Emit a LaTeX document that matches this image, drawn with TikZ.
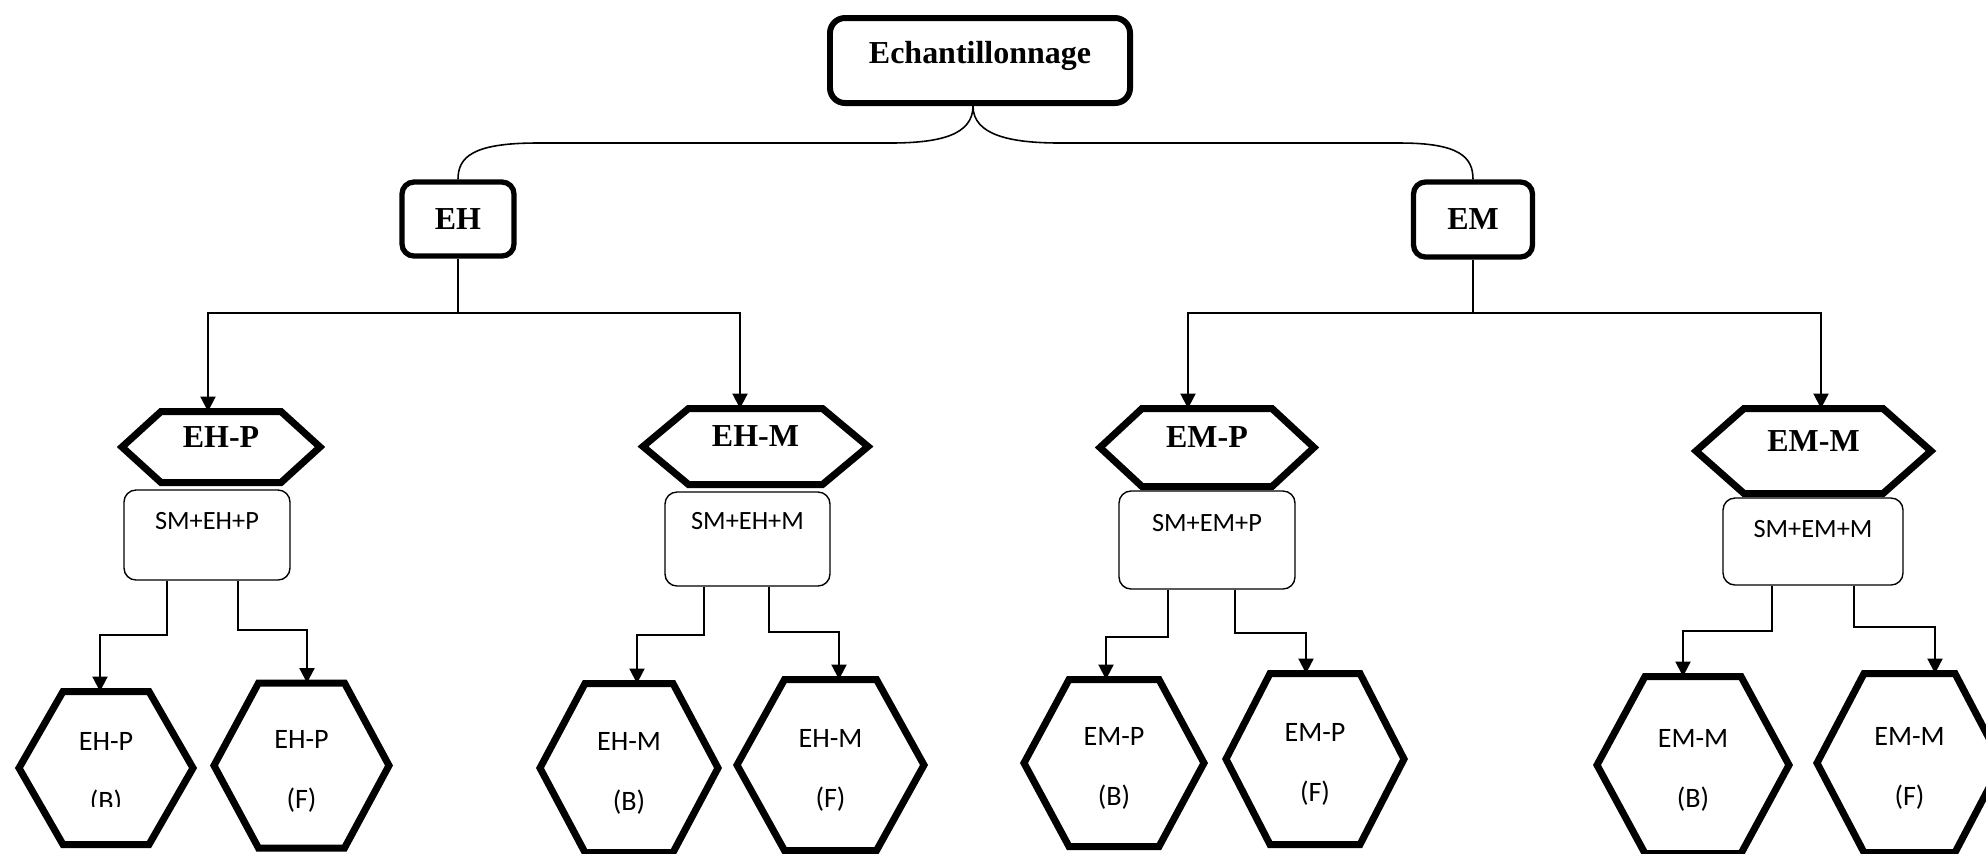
\documentclass[tikz,border=0pt]{standalone}
\usepackage{fontspec}
\setmainfont{Liberation Serif}
\newfontfamily\calibri{Carlito}
\usetikzlibrary{arrows.meta}

\newcommand{\hexa}[2]{%
  \draw[trait] (#1.west) -- ([xshift=#2]#1.north west) -- ([xshift=-#2]#1.north east)
    -- (#1.east) -- ([xshift=-#2]#1.south east) -- ([xshift=#2]#1.south west) -- cycle;}

\begin{document}
\begin{tikzpicture}[
    >={Triangle[length=0.15cm,width=0.15cm]},
    boite/.style={draw,line width=1.7pt,rounded corners=0.15cm,inner sep=0,font=\fontsize{9.1}{11}\selectfont\bfseries},
    hexhaut/.style={inner sep=0,outer sep=0,text depth=0.2cm,font=\fontsize{9.1}{11}\selectfont\bfseries},
    hexbas/.style={inner sep=0,outer sep=0,align=center,text height=0.89cm,font=\calibri\fontsize{8}{17}\selectfont},
    combi/.style={draw,line width=0.4pt,rounded corners=0.12cm,inner sep=0,font=\calibri\fontsize{7.5}{9}\selectfont},
    lien/.style={line width=0.6pt},
    courbe/.style={line width=0.45pt},
    trait/.style={line width=2pt}
]
    \useasboundingbox (0,0) rectangle (19.86,-8.53);
    \clip (0,0) rectangle (19.86,-8.53);

    \node[boite,minimum width=3.00cm,minimum height=0.85cm,text depth=0.16cm] (ech) at (9.80,-0.605) {Echantillonnage};
    \node[boite,line width=1.5pt,rounded corners=0.12cm,minimum width=1.12cm,minimum height=0.74cm] (eh) at (4.58,-2.19) {EH};
    \node[boite,line width=1.5pt,rounded corners=0.12cm,minimum width=1.19cm,minimum height=0.75cm] (em) at (14.73,-2.195) {EM};

    \node[combi,minimum width=1.66cm,minimum height=0.90cm,text depth=0.28cm] (smehp) at (2.07,-5.35) {SM+EH+P};
    \node[combi,minimum width=1.65cm,minimum height=0.94cm,text depth=0.36cm] (smehm) at (7.475,-5.39) {SM+EH+M};
    \node[combi,minimum width=1.76cm,minimum height=0.98cm,text depth=0.34cm] (smemp) at (12.07,-5.40) {SM+EM+P};
    \node[combi,minimum width=1.80cm,minimum height=0.87cm,text depth=0.25cm] (smemm) at (18.13,-5.415) {SM+EM+M};

    \node[hexhaut,minimum width=1.98cm,minimum height=0.71cm] (ehp) at (2.21,-4.47) {EH-P};
    \node[hexhaut,minimum width=2.25cm,minimum height=0.76cm] (ehm) at (7.555,-4.465) {EH-M};
    \node[hexhaut,minimum width=2.14cm,minimum height=0.78cm] (emp) at (12.07,-4.475) {EM-P};
    \node[hexhaut,minimum width=2.35cm,minimum height=0.85cm] (emm) at (18.135,-4.51) {EM-M};

    \node[hexbas,minimum width=1.74cm,minimum height=1.53cm] (ehpb) at (1.06,-7.68) {EH-P\\(B)};
    \node[hexbas,minimum width=1.75cm,minimum height=1.65cm] (ehpf) at (3.015,-7.655) {EH-P\\(F)};
    \node[hexbas,minimum width=1.78cm,minimum height=1.69cm] (ehmb) at (6.29,-7.68) {EH-M\\(B)};
    \node[hexbas,minimum width=1.87cm,minimum height=1.71cm] (ehmf) at (8.305,-7.65) {EH-M\\(F)};
    \node[hexbas,minimum width=1.80cm,minimum height=1.67cm] (empb) at (11.14,-7.63) {EM-P\\(B)};
    \node[hexbas,minimum width=1.78cm,minimum height=1.71cm] (empf) at (13.15,-7.59) {EM-P\\(F)};
    \node[hexbas,minimum width=1.92cm,minimum height=1.77cm] (emmb) at (16.93,-7.65) {EM-M\\(B)};
    \node[hexbas,minimum width=1.85cm,minimum height=1.79cm] (emmf) at (19.095,-7.63) {EM-M\\(F)};
    \fill[white] (0.85,-8.07) rectangle (1.27,-8.25);

    \foreach \n/\d in {ehp/0.39,ehm/0.455,emp/0.42,emm/0.48,ehpb/0.44,ehpf/0.445,ehmb/0.45,ehmf/0.475,empb/0.45,empf/0.44,emmb/0.48,emmf/0.47}
        \hexa{\n}{\d cm};

    \draw[courbe] ([xshift=-0.07cm]ech.south) .. controls +(0,-0.29) and +(0.5,0) .. (8.90,-1.43) -- (5.37,-1.43) .. controls +(-0.65,0) and +(0,0.22) .. (eh.north);
    \draw[courbe] ([xshift=-0.07cm]ech.south) .. controls +(0,-0.29) and +(-0.5,0) .. (10.60,-1.43) -- (14.00,-1.43) .. controls +(0.6,0) and +(0,0.22) .. (em.north);

    \draw[lien] (eh.south) -- ++(0,-0.54) coordinate (ehx);
    \draw[lien,->] (ehx) -| ([xshift=-0.13cm]ehp.north);
    \draw[lien,->] (ehx) -| ([xshift=-0.155cm]ehm.north);
    \draw[lien] (em.south) -- ++(0,-0.53) coordinate (emx);
    \draw[lien,->] (emx) -| ([xshift=-0.19cm]emp.north);
    \draw[lien,->] (emx) -| ([xshift=0.075cm]emm.north);

    \draw[lien,->] ([xshift=-0.40cm]smehp.south) -- ++(0,-0.54) -| ([xshift=-0.06cm]ehpb.north);
    \draw[lien,->] ([xshift=0.31cm]smehp.south) -- ++(0,-0.49) -| ([xshift=0.055cm]ehpf.north);
    \draw[lien,->] ([xshift=-0.435cm]smehm.south) -- ++(0,-0.48) -| ([xshift=0.08cm]ehmb.north);
    \draw[lien,->] ([xshift=0.215cm]smehm.south) -- ++(0,-0.45) -| ([xshift=0.085cm]ehmf.north);
    \draw[lien,->] ([xshift=-0.39cm]smemp.south) -- ++(0,-0.47) -| ([xshift=-0.08cm]empb.north);
    \draw[lien,->] ([xshift=0.28cm]smemp.south) -- ++(0,-0.43) -| ([xshift=-0.09cm]empf.north);
    \draw[lien,->] ([xshift=-0.41cm]smemm.south) -- ++(0,-0.45) -| ([xshift=-0.10cm]emmb.north);
    \draw[lien,->] ([xshift=0.41cm]smemm.south) -- ++(0,-0.41) -| ([xshift=0.255cm]emmf.north);
\end{tikzpicture}
\end{document}
